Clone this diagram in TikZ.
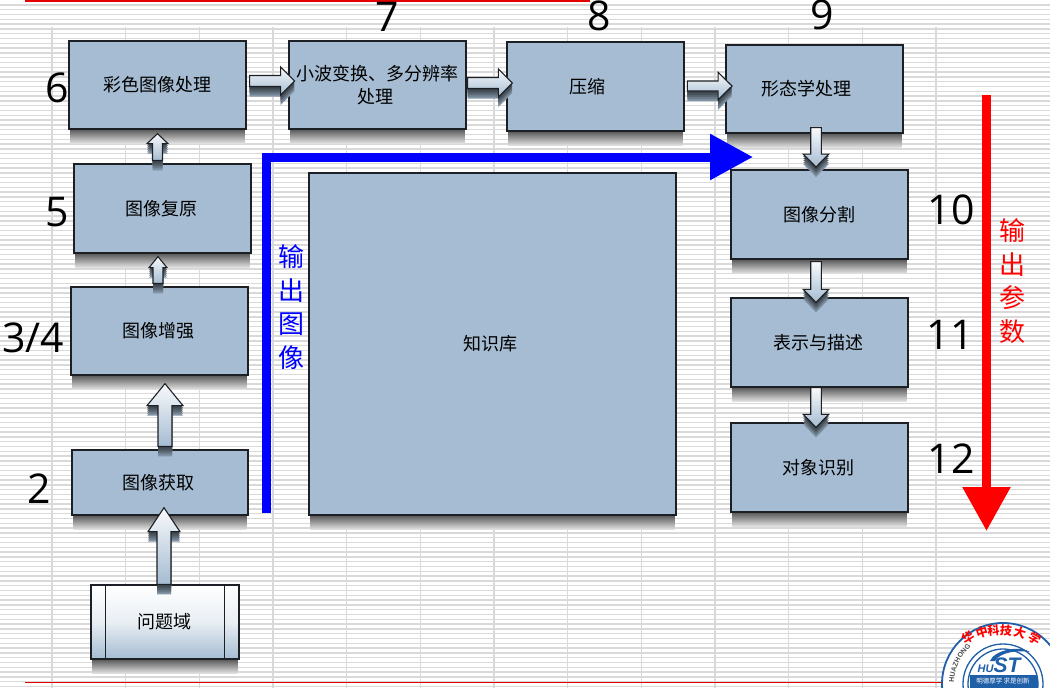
\documentclass[tikz,border=0pt]{standalone}
\usepackage{fontspec}
\setmainfont{Noto Sans CJK SC}
\newfontfamily\numfont{Open Sans}
\newfontfamily\latinfont{Liberation Sans}
\usetikzlibrary{calc,arrows.meta,positioning,decorations.text}
\pgfdeclarelayer{paper}
\pgfdeclarelayer{shade}
\pgfsetlayers{paper,shade,main}
\definecolor{boxblue}{HTML}{A5BCD2}
\definecolor{edge}{HTML}{1C2024}
\definecolor{gridgrey}{HTML}{D9D9D9}
\definecolor{logoblue}{HTML}{1F5FA8}
\tikzset{
  procbox/.style={draw=edge,line width=1.3pt,fill=boxblue,inner sep=0pt,
    font=\fontsize{18}{23}\selectfont,align=center,text=black},
  sidebox/.style={procbox,fill=none,top color=white,bottom color=boxblue,middle color=white!75!boxblue},
  boxshade/.style={top color=black!64,middle color=black!48,bottom color=black!10,draw=none},
  arrowbody/.style={draw=edge,line width=1.1pt,line join=miter,top color=white!92!boxblue,bottom color=boxblue},
  bignum/.style={font=\numfont\fontsize{41}{41}\selectfont,text=black,inner sep=0pt},
  vlabel/.style={font=\fontsize{26}{33.5}\selectfont,align=center,inner sep=0pt},
  bigblue/.style={draw={rgb,255:red,0;green,0;blue,255},line width=9pt,line join=miter,-{Triangle[length=43pt,width=44pt]}},
  bigred/.style={draw={rgb,255:red,255;green,0;blue,0},line width=9pt,-{Triangle[length=44pt,width=46pt]}},
  logochar/.style={font=\bfseries\fontsize{12}{12}\selectfont,text=red,inner sep=0pt},
  logoring/.style={draw=logoblue,line width=1.3pt},
}
\newcommand\blockarrow[5]{%
  \coordinate (S) at (#1);
  \coordinate (T) at (#2);
  \coordinate (B) at ($(T)!#5pt!(S)$);
  \def\arrowoutline{($(S)!#3pt!90:(T)$) -- ($(B)!#3pt!90:(T)$) -- ($(B)!#4pt!90:(T)$) -- (T)
     -- ($(B)!#4pt!-90:(T)$) -- ($(B)!#3pt!-90:(T)$) -- ($(S)!#3pt!-90:(T)$) -- cycle}%
  \foreach \k/\g in {10/22,8/34,6/46,4/56,2/64} {
    \begin{scope}[transform canvas={yshift=-\k pt}]
      \fill[black!\g!boxblue] \arrowoutline;
    \end{scope}
  }
  \draw[arrowbody] \arrowoutline;
}
\begin{document}
\begin{tikzpicture}[x=1pt,y=-1pt]
\useasboundingbox (0,0) rectangle (1050,688);
\clip (0,0) rectangle (1050,688);
\begin{pgfonlayer}{paper}
\fill[white] (0,0) rectangle (1050,688);
\foreach \i in {0,...,143} {
  \draw[gridgrey,line width=1.4pt] (0,{4.8*\i+4.8}) -- (1050,{4.8*\i+4.8});
}
\foreach \i in {0,...,12} {
  \draw[gridgrey,line width=1.4pt] ({52+73.67*\i},27) -- ({52+73.67*\i},688);
}
\end{pgfonlayer}
% rules
\coordinate (topa) at (24.5,1);
\coordinate (topb) at (590,1);
\coordinate (bota) at (25,682.5);
\coordinate (botb) at (942,682.5);
\draw[red!90!black,line width=2.6pt] (topa) -- (topb);
\draw[red!90!black,line width=1.1pt] (bota) -- (botb);

% boxes
\node[procbox,minimum width=177pt,minimum height=88pt] (a6) at (157.5,85) {彩色图像处理};
\node[procbox,minimum width=177pt,minimum height=88pt] (a7) at (377.5,85) {小波变换、多分辨率\\处理\hspace*{4pt}};
\node[procbox,minimum width=177pt,minimum height=89pt] (a8) at (595.5,86.5) {压缩\hspace*{16pt}};
\node[procbox,minimum width=177pt,minimum height=88pt] (a9) at (814.5,89) {形态学处理\hspace*{16pt}};
\node[procbox,minimum width=177pt,minimum height=89pt] (a10) at (819.5,214.5) {图像分割};
\node[procbox,minimum width=177pt,minimum height=89pt] (a11) at (819.5,342.5) {表示与描述\hspace*{3pt}};
\node[procbox,minimum width=177pt,minimum height=89pt] (a12) at (819.5,467.5) {对象识别\hspace*{2pt}};
\node[procbox,minimum width=177pt,minimum height=89pt] (a5) at (162.5,208.5) {图像复原\hspace*{3pt}};
\node[procbox,minimum width=177pt,minimum height=88pt] (a34) at (159.5,331) {图像增强\hspace*{2pt}};
\node[procbox,minimum width=176pt,minimum height=65pt] (a2) at (160,482.5) {图像获取\hspace*{3pt}};
\node[procbox,minimum width=367pt,minimum height=342pt] (kb) at (492.5,344) {知识库\hspace*{4pt}};
\node[sidebox,minimum width=148pt,minimum height=74pt] (q) at (165,622) {问题域\hspace*{2pt}};
\draw[draw=edge,line width=1.2pt] ([xshift=15pt]q.north west) -- ([xshift=15pt]q.south west);
\draw[draw=edge,line width=1.2pt] ([xshift=-15pt]q.north east) -- ([xshift=-15pt]q.south east);

% box shadows, under the boxes
\begin{pgfonlayer}{shade}
\foreach \bx in {a6,a7,a8,a9,a10,a11,a12,a5,a34,a2,kb,q} {
  \path[boxshade] let \p1=(\bx.south west), \p2=(\bx.south east) in
    (\x1+2pt,\y1) rectangle (\x2-2pt,\y1-14pt);
}
\end{pgfonlayer}

% block arrows
\blockarrow{[xshift=-1pt]q.north}{[xshift=4pt,yshift=8pt]a2.south}{7}{16}{24}
\blockarrow{[xshift=5pt,yshift=3pt]a2.north}{[xshift=5.5pt,yshift=-8pt]a34.south}{7}{18}{22}
\blockarrow{[xshift=-1.5pt,yshift=3pt]a34.north}{[xshift=-4.5pt,yshift=-3pt]a5.south}{5}{9}{11}
\blockarrow{[xshift=-5pt,yshift=3pt]a5.north}{[yshift=-4pt]a6.south}{5}{10.5}{10}
\blockarrow{[xshift=3pt,yshift=4pt]a6.east}{[xshift=6.3pt,yshift=4pt]a7.west}{5.5}{14}{14}
\blockarrow{[xshift=1pt,yshift=2pt]a7.east}{[xshift=6pt,yshift=3.5pt]a8.west}{5.5}{14}{14}
\blockarrow{[xshift=2.7pt,yshift=.5pt]a8.east}{[xshift=6.7pt,yshift=3pt]a9.west}{5}{13.7}{14}
\blockarrow{[xshift=1.5pt,yshift=6pt]a9.south}{[xshift=-3.5pt,yshift=2.3pt]a10.north}{5.3}{12.8}{13}
\blockarrow{[xshift=-3.5pt,yshift=-2pt]a10.south}{[xshift=-3.5pt,yshift=-5pt]a11.north}{5.3}{12.8}{13}
\blockarrow{[xshift=-3.5pt]a11.south}{[xshift=-3.5pt,yshift=-5pt]a12.north}{5.3}{12.8}{13}

% big flow arrows
\coordinate (bluestart) at (266,513);
\coordinate (bluecorner) at (266,157);
\coordinate (bluetip) at (753,157);
\draw[bigblue] (bluestart) -- (bluecorner) -- (bluetip);
\coordinate (redstart) at (986.5,95);
\coordinate (redtip) at (986.5,531);
\draw[bigred] (redstart) -- (redtip);
\node[vlabel,text={rgb,255:red,0;green,0;blue,255}] (bluelabel) at (291,307) {输\\出\\图\\像};
\node[vlabel,text=red] (redlabel) at (1012,281) {输\\出\\参\\数};

% numbers
\node[bignum] (n6) at (57,88) {6};
\node[bignum] (n7) at (387,17) {7};
\node[bignum] (n8) at (599,16) {8};
\node[bignum] (n9) at (822,15) {9};
\node[bignum] (n5) at (57,212) {5};
\node[bignum] (n34) at (33,338) {3/4};
\node[bignum] (n2) at (39,489) {2};
\node[bignum] (n10) at (951,210) {10};
\node[bignum] (n11) at (950,335) {11};
\node[bignum] (n12) at (951,459) {12};

% emblem
\coordinate (C) at (1003,684);
\fill[white] (C) circle[radius=61pt];
\draw[logoring,line width=1.8pt] (C) circle[radius=61pt];
\draw[logoring] (C) circle[radius=40pt];
\draw[logoring] (C) circle[radius=35pt];
\begin{scope}
\clip (C) circle[radius=35pt];
\fill[logoblue] (970,675) rectangle (1040,688);
\end{scope}
\node[logochar,rotate=32] at (968,637) {华};
\node[logochar,rotate=18] at (982,632) {中};
\node[logochar,rotate=5] at (993.5,630) {科};
\node[logochar,rotate=-5] at (1006,630) {技};
\node[logochar,rotate=-16] at (1020,633) {大};
\node[logochar,rotate=-30] at (1035,638) {学};
\path[decorate,decoration={text along path,
    text={|\latinfont\bfseries\fontsize{7}{7}\selectfont\color{black!70}|HUAZHONG}}]
   ($(C)+(178:49pt)$) arc[start angle=178,end angle=130,radius=49pt];
\fill[logoblue] (990,661) .. controls (994,650) and (1020,645) .. (1030,652)
   .. controls (1018,650) and (1000,652) .. (995,661) -- cycle;
\node[font=\latinfont\bfseries\itshape,text=logoblue,inner sep=0pt] (hust) at (999,665)
  {\fontsize{11}{11}\selectfont HU\fontsize{21}{21}\selectfont ST};
\node[font=\fontsize{6.5}{6.5}\selectfont,text=white,inner sep=0pt] (motto) at (1003,681) {明德厚学 求是创新};
\end{tikzpicture}
\end{document}
